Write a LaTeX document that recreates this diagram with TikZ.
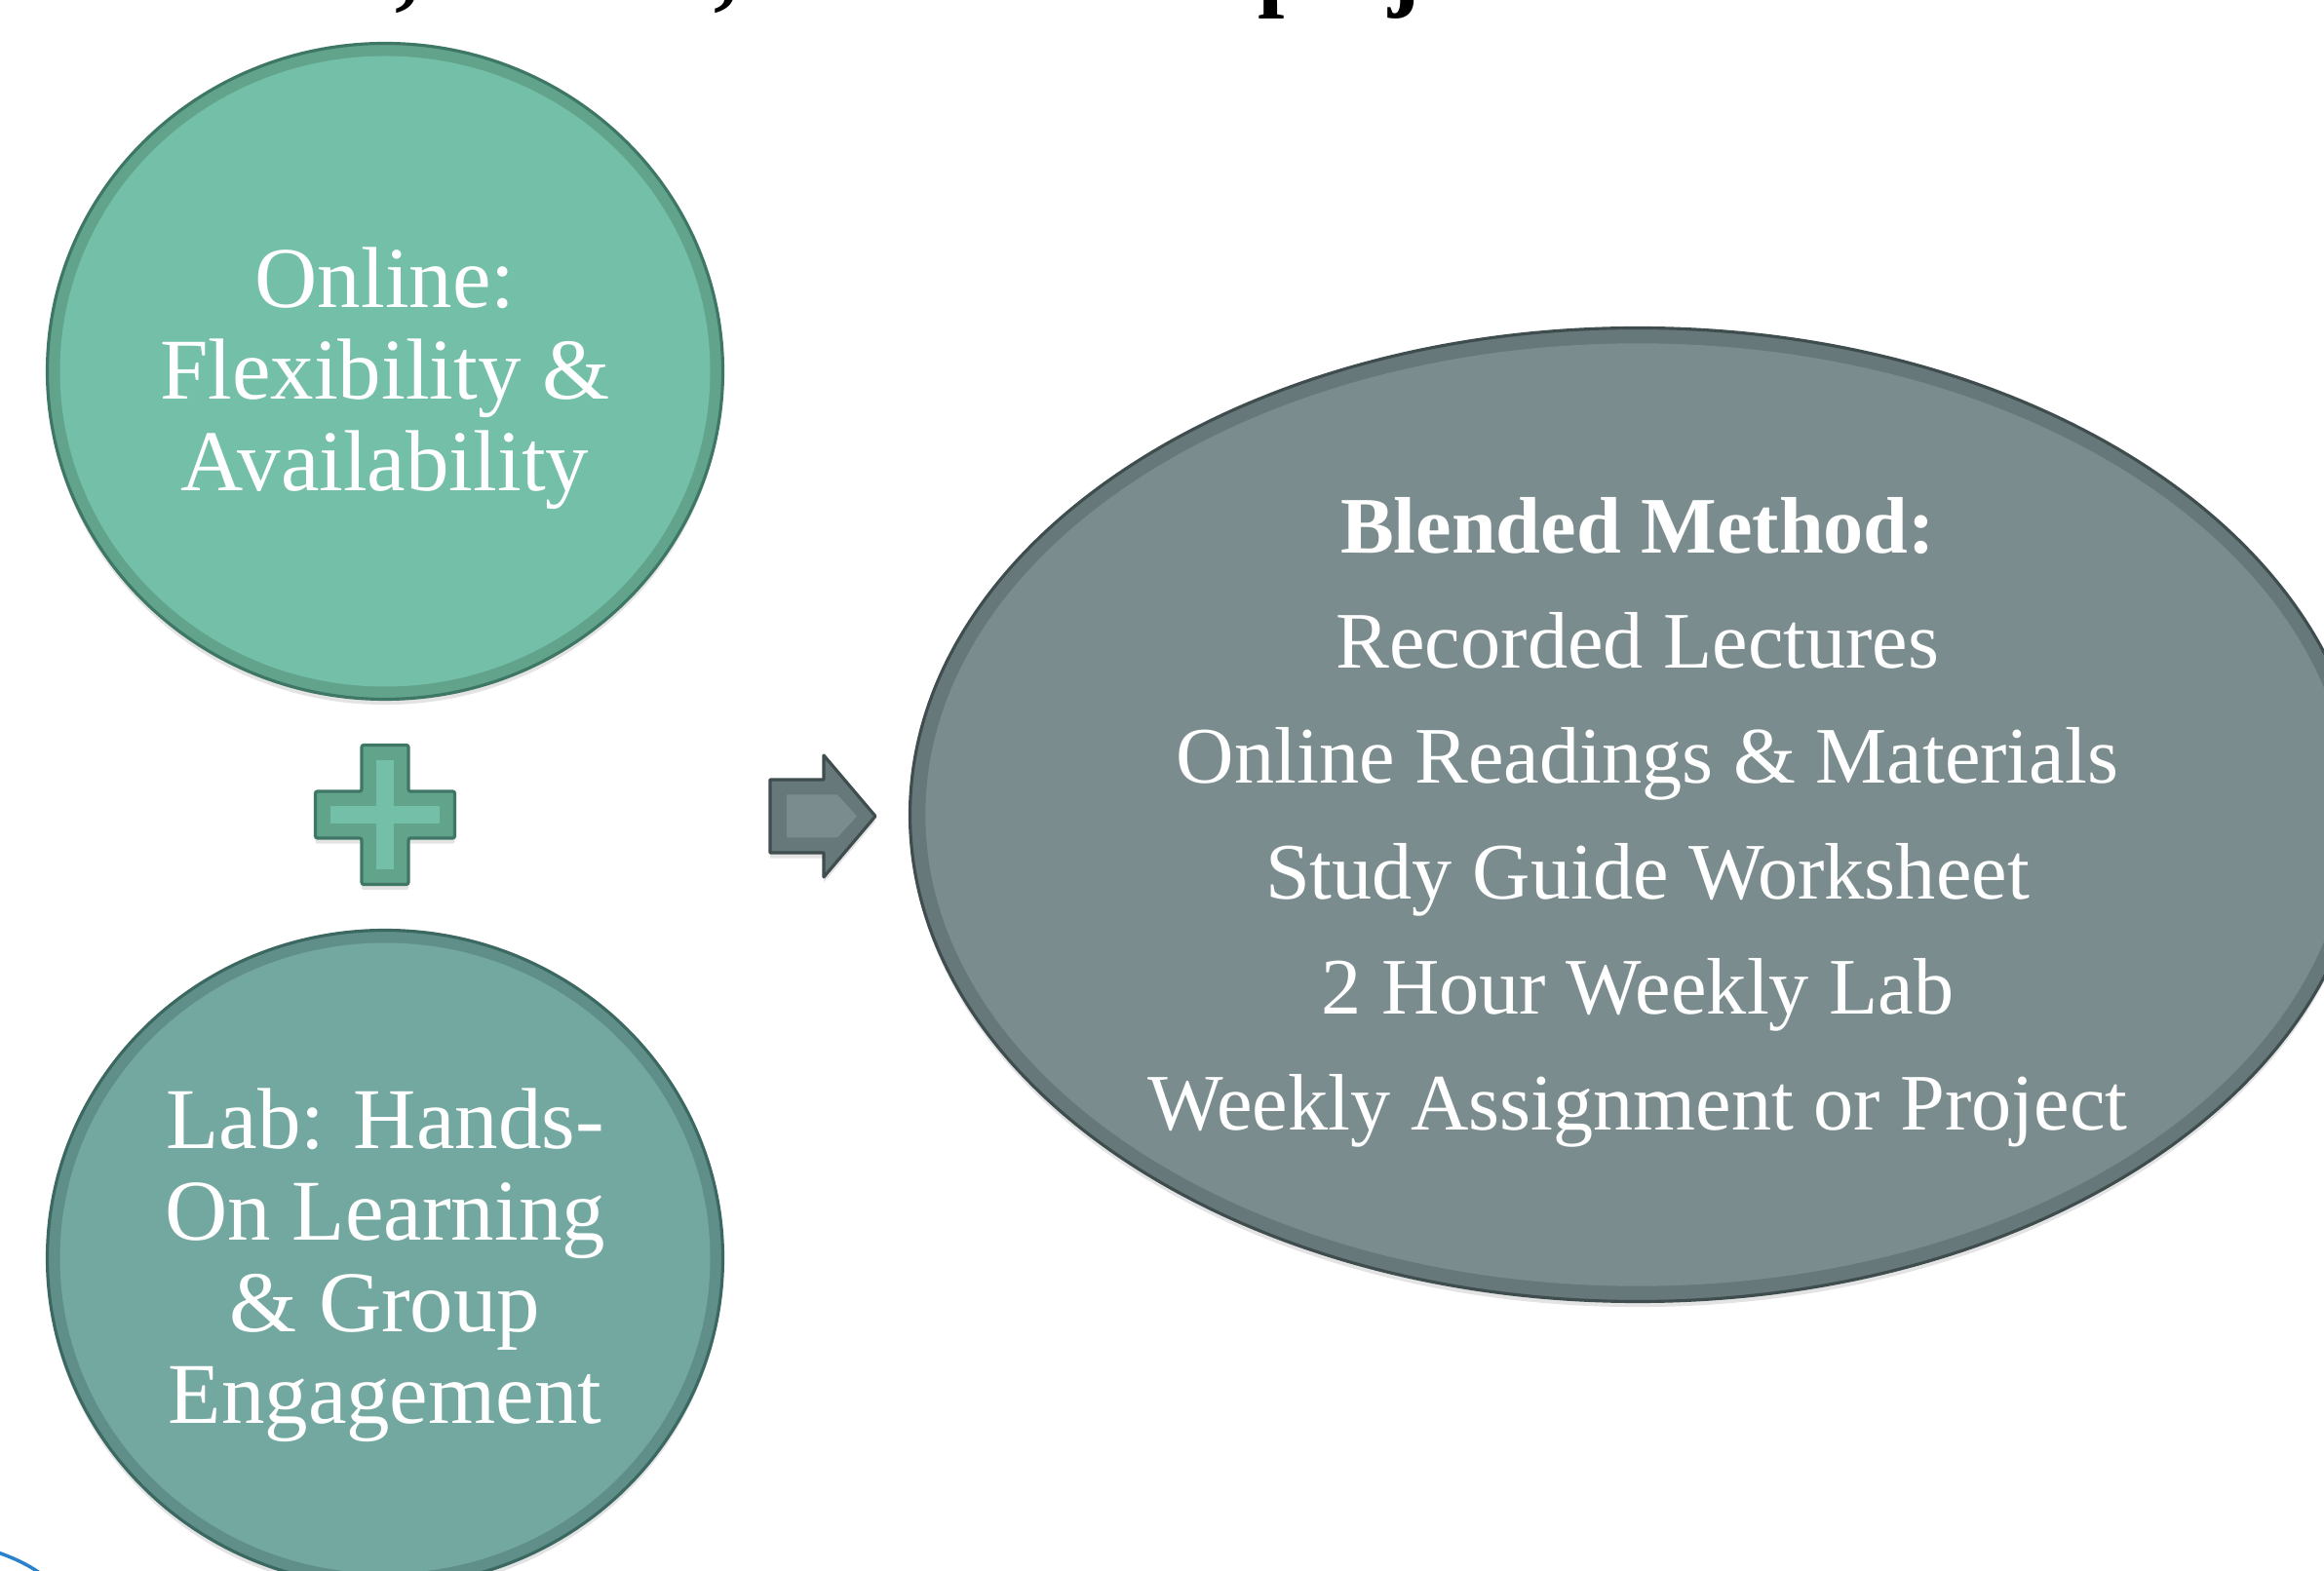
\documentclass[tikz,border=0pt]{standalone}
\usepackage{fontspec}
\setmainfont{Liberation Serif}
\usetikzlibrary{shapes.geometric,shadows,calc}

\definecolor{onlinefill}{HTML}{74BFA8}
\definecolor{onlinerim}{HTML}{62A38C}
\definecolor{onlineline}{HTML}{3E7766}
\definecolor{labfill}{HTML}{73A8A1}
\definecolor{labrim}{HTML}{5F8F88}
\definecolor{labline}{HTML}{3C6862}
\definecolor{blendfill}{HTML}{7A8C8E}
\definecolor{blendrim}{HTML}{67787A}
\definecolor{blendline}{HTML}{3F4D4F}
\definecolor{slideblue}{HTML}{2A82CC}

\tikzset{
  rim/.style 2 args={path picture={\fill[#1] let \p1=(path picture bounding box.north east), \p2=(path picture bounding box.center) in (\p2) ellipse [x radius={\x1-\x2-#2}, y radius={\y1-\y2-#2}];}},
  soft/.style={drop shadow={shadow xshift=0pt, shadow yshift=-1.6pt, opacity=0.22}},
  bubble/.style={ellipse, minimum width=6.93cm, minimum height=6.73cm, inner sep=0pt, line width=0.9pt, soft},
  blob/.style={ellipse, minimum width=14.93cm, minimum height=9.99cm, inner sep=0pt, line width=0.9pt, soft, fill=blendrim, draw=blendline, rim={blendfill}{4.5pt}},
  words/.style={inner sep=0pt, align=center, text=white, yshift=-0.075cm, font=\fontsize{25.3}{26.7}\selectfont},
  list/.style={words, font=\fontsize{23.4}{33.7}\selectfont},
  title/.style={inner sep=0pt, anchor=base, font=\bfseries\fontsize{28}{30}\selectfont},
}

\begin{document}
\begin{tikzpicture}[node distance=4.55cm, auto]
	\useasboundingbox (0,0) rectangle (23.84,-16.12);
	% bits of the heading line above
	\begin{scope}
		\clip (0,0) rectangle (23.84,-0.4);
		\node (c1) [title] at (4.18,0.01) {,};
		\node (c2) [title] at (7.45,0.01) {,};
		\node (p) [title, anchor=base west] at (12.90,0.01) {p};
		\node (j) [title, anchor=base west] at (14.24,0.01) {j};
	\end{scope}
	\node (Online) [bubble, fill=onlinerim, draw=onlineline, rim={onlinefill}{3.7pt}] at (3.95,-3.81) {};
	\node (M) [below of=Online] {};
	\node (Lab) [bubble, fill=labrim, draw=labline, rim={labfill}{3.7pt}, below of=M] {};
	\node (Blend) [blob, right of=M, node distance=12.85cm] {};
	\node (OnlineT) [words] at (Online.center) {Online:\\Flexibility \&\\Availability};
	\node (LabT) [words] at (Lab.center) {Lab: Hands-\\On Learning\\\& Group\\Engagement};
	\node (BlendT) [list] at (Blend.center) {\textbf{Blended Method:}\\Recorded Lectures\\\hspace*{0.2cm}Online Readings \& Materials\\\hspace*{0.2cm}Study Guide Worksheet\\2 Hour Weekly Lab\\Weekly Assignment or Project};
	% plus sign
	\begin{scope}[shift={(M)}]
		\draw[fill=onlinerim, draw=onlineline, line width=0.9pt, rounded corners=0.6pt, soft] (-0.24,0.715) -- (0.24,0.715) -- (0.24,0.24) -- (0.715,0.24) -- (0.715,-0.24) -- (0.24,-0.24) -- (0.24,-0.715) -- (-0.24,-0.715) -- (-0.24,-0.24) -- (-0.715,-0.24) -- (-0.715,0.24) -- (-0.24,0.24) -- cycle;
		\fill[onlinefill] (-0.09,-0.56) rectangle (0.09,0.56);
		\fill[onlinefill] (-0.56,-0.09) rectangle (0.56,0.09);
	\end{scope}
	% arrow
	\coordinate (T) at (7.90,-8.375);
	\begin{scope}[shift={(T)}]
		\draw[fill=blendrim, draw=blendline, line width=0.9pt, line join=round, soft] (0,0.375) -- (0.55,0.375) -- (0.55,0.625) -- (1.08,0) -- (0.55,-0.625) -- (0.55,-0.375) -- (0,-0.375) -- cycle;
		\fill[blendfill] (0.17,0.22) -- (0.69,0.22) -- (0.89,0) -- (0.69,-0.22) -- (0.17,-0.22) -- cycle;
	\end{scope}
	% corner of the slide frame
	\draw[slideblue, line width=1pt] (-0.02,-15.93) .. controls (0.15,-15.99) and (0.3,-16.06) .. (0.45,-16.17);
\end{tikzpicture}
\end{document}
